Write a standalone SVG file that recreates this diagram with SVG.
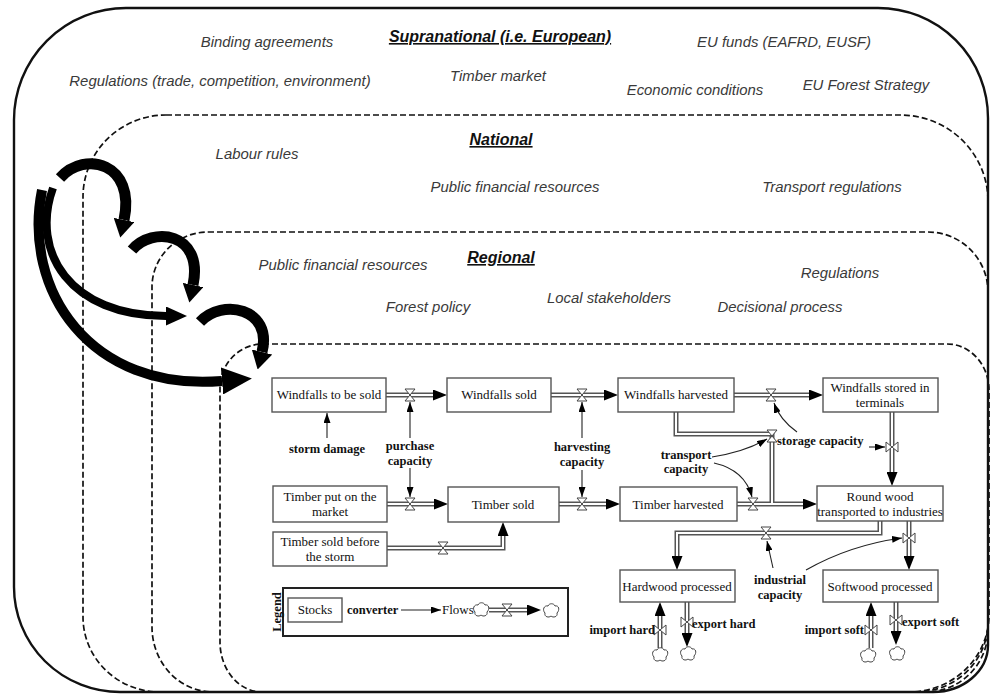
<svg xmlns="http://www.w3.org/2000/svg" width="992" height="695" viewBox="0 0 992 695">
<style>
.lbl{font-family:"Liberation Sans",Arial,sans-serif;font-style:italic;font-size:14.9px;fill:#3a3a3a;text-anchor:middle}
.hd{font-family:"Liberation Sans",Arial,sans-serif;font-style:italic;font-weight:bold;font-size:16px;fill:#111;text-anchor:middle;text-decoration:underline}
.bx{fill:#fff;stroke:#555;stroke-width:1.4}
.bt{font-family:"Liberation Serif","Times New Roman",serif;font-size:13px;fill:#111;text-anchor:middle}
.bl{font-family:"Liberation Serif","Times New Roman",serif;font-size:13px;fill:#111}
.bb{font-family:"Liberation Serif","Times New Roman",serif;font-size:12.5px;font-weight:bold;fill:#111}
.mid{text-anchor:middle}
.end{text-anchor:end}
.dash{fill:none;stroke:#111;stroke-width:1.7;stroke-dasharray:6 3}
.solid{fill:none;stroke:#111;stroke-width:2.4}
.big{fill:none;stroke:#000}
.po{fill:none;stroke:#555;stroke-width:5}
.pi{fill:none;stroke:#fff;stroke-width:2}
.pih{fill:none;stroke:#fff;stroke-width:2;marker-end:url(#ph)}
.ctl{fill:none;stroke:#222;stroke-width:1.1;marker-end:url(#ct)}
</style>
<defs>
<marker id="mA" viewBox="0 0 10 10" markerUnits="userSpaceOnUse" markerWidth="18" markerHeight="21" refX="0" refY="5" orient="auto" preserveAspectRatio="none"><path d="M0,0 L10,5 L0,10 Z" fill="#000"/></marker>
<marker id="mB" viewBox="0 0 10 10" markerUnits="userSpaceOnUse" markerWidth="21" markerHeight="19" refX="0" refY="5" orient="auto" preserveAspectRatio="none"><path d="M0,0 L10,5 L0,10 Z" fill="#000"/></marker>
<marker id="mC" viewBox="0 0 10 10" markerUnits="userSpaceOnUse" markerWidth="30" markerHeight="27" refX="0" refY="5" orient="auto" preserveAspectRatio="none"><path d="M0,0 L10,5 L0,10 Z" fill="#000"/></marker>
<marker id="ph" viewBox="0 0 10 10" markerUnits="userSpaceOnUse" markerWidth="14" markerHeight="11" refX="0" refY="5" orient="auto" preserveAspectRatio="none"><path d="M0,0 L10,5 L0,10 Z" fill="#000"/></marker>
<marker id="ct" viewBox="0 0 10 10" markerUnits="userSpaceOnUse" markerWidth="10" markerHeight="7" refX="10" refY="5" orient="auto" preserveAspectRatio="none"><path d="M0,0 L10,5 L0,10 Z" fill="#000"/></marker>
<path id="valve" d="M-5,-6 H5 L-5,6 H5 Z" fill="#fff" stroke="#444" stroke-width="1"/>
<path id="cloud" d="M-6,2 C-9,-1 -7,-6 -3,-5 C-2,-8 3,-8 4,-5 C8,-6 9,-1 6,2 C7,6 2,7 0,5 C-2,7 -7,6 -6,2 Z" fill="#fff" stroke="#444" stroke-width="1"/>
<path id="p1" d="M386,395 H433"/>
<path id="p2" d="M551,395 H604"/>
<path id="p3" d="M734,395 H809"/>
<path id="p4" d="M387,504 H434"/>
<path id="p5" d="M559,504 H606"/>
<path id="p6" d="M737,504 H803"/>
<path id="p7" d="M676,412 V434 H772 V504"/>
<path id="p8" d="M892,412 V472"/>
<path id="p9" d="M880,521 V533 H677 V556"/>
<path id="p10" d="M909,521 V556"/>
<path id="p11" d="M660,648 V616"/>
<path id="p12" d="M687,602 V633"/>
<path id="p13" d="M871,648 V616"/>
<path id="p14" d="M896,602 V631"/>
<path id="p15" d="M387,548 H503 V536"/>
<path id="p16" d="M489,610 H527"/>
</defs>

<rect width="992" height="695" fill="#fff"/>

<g id="levels">
<path class="dash" d="M263,344 H947 A42,46 0 0 1 989,390 V615 A80,77 0 0 1 909,692 H262 A42,50 0 0 1 220,642 V388 A43,44 0 0 1 263,344 Z"/>
<path class="dash" d="M208,232 H928 A60,60 0 0 1 988,292 V622 A72,70 0 0 1 916,692 H213 A61,65 0 0 1 152,627 V287 A56,55 0 0 1 208,232 Z"/>
<path class="dash" d="M166,115 H900 A88,86 0 0 1 988,201 V630 A62,62 0 0 1 926,692 H160 A77,75 0 0 1 83,617 V197 A83,82 0 0 1 166,115 Z"/>
<path class="solid" d="M126,8 H878 A110,110 0 0 1 988,118 V645 A55,47 0 0 1 933,692 H120 A106,105 0 0 1 14,587 V120 A112,112 0 0 1 126,8 Z"/>
</g>

<g id="supranational">
<text class="hd" x="500" y="42">Supranational (i.e. European)</text>
<text class="lbl" x="267" y="47">Binding agreements</text>
<text class="lbl" x="784" y="47">EU funds (EAFRD, EUSF)</text>
<text class="lbl" x="220" y="86">Regulations (trade, competition, environment)</text>
<text class="lbl" x="498" y="81">Timber market</text>
<text class="lbl" x="695" y="95">Economic conditions</text>
<text class="lbl" x="866" y="90">EU Forest Strategy</text>
</g>
<g id="national">
<text class="hd" x="501" y="145">National</text>
<text class="lbl" x="257" y="159">Labour rules</text>
<text class="lbl" x="515" y="192">Public financial resources</text>
<text class="lbl" x="832" y="192">Transport regulations</text>
</g>
<g id="regional">
<text class="hd" x="501" y="263">Regional</text>
<text class="lbl" x="343" y="270">Public financial resources</text>
<text class="lbl" x="840" y="278">Regulations</text>
<text class="lbl" x="428" y="312">Forest policy</text>
<text class="lbl" x="609" y="303">Local stakeholders</text>
<text class="lbl" x="780" y="312">Decisional process</text>
</g>

<g id="big-arrows">
<path class="big" stroke-width="11" marker-end="url(#mA)" d="M60,178 C85,150 136,163 124,220"/>
<path class="big" stroke-width="11" marker-end="url(#mA)" d="M132,250 C152,226 204,232 193,285"/>
<path class="big" stroke-width="11" marker-end="url(#mA)" d="M200,322 C222,298 273,308 262,352"/>
<path class="big" stroke-width="8" marker-end="url(#mB)" d="M53,188 C30,252 70,316 166,316"/>
<path class="big" stroke-width="10" marker-end="url(#mC)" d="M42,190 C22,290 90,392 222,381"/>
</g>

<g id="flows">
<use href="#p1" class="po"/><use href="#p2" class="po"/><use href="#p3" class="po"/><use href="#p4" class="po"/>
<use href="#p5" class="po"/><use href="#p6" class="po"/><use href="#p7" class="po"/><use href="#p8" class="po"/>
<use href="#p9" class="po"/><use href="#p10" class="po"/><use href="#p11" class="po"/><use href="#p12" class="po"/>
<use href="#p13" class="po"/><use href="#p14" class="po"/><use href="#p15" class="po"/><use href="#p16" class="po"/>
<use href="#p1" class="pih"/><use href="#p2" class="pih"/><use href="#p3" class="pih"/><use href="#p4" class="pih"/>
<use href="#p5" class="pih"/><use href="#p6" class="pih"/><use href="#p7" class="pi"/><use href="#p8" class="pih"/>
<use href="#p9" class="pih"/><use href="#p10" class="pih"/><use href="#p11" class="pih"/><use href="#p12" class="pih"/>
<use href="#p13" class="pih"/><use href="#p14" class="pih"/><use href="#p15" class="pih"/><use href="#p16" class="pih"/>
<use href="#valve" x="410" y="395"/><use href="#valve" x="582" y="395"/><use href="#valve" x="771" y="395"/>
<use href="#valve" x="410" y="504"/><use href="#valve" x="582" y="504"/><use href="#valve" x="753" y="504"/>
<use href="#valve" x="443" y="548"/><use href="#valve" x="766" y="533"/><use href="#valve" x="772" y="436"/>
<use href="#valve" x="507" y="610"/>
<use href="#valve" transform="translate(892,447) rotate(90)"/>
<use href="#valve" transform="translate(909,538) rotate(90)"/>
<use href="#valve" transform="translate(660,630) rotate(90)"/>
<use href="#valve" transform="translate(687,622) rotate(90)"/>
<use href="#valve" transform="translate(871,630) rotate(90)"/>
<use href="#valve" transform="translate(896,620) rotate(90)"/>
<use href="#cloud" x="660" y="655"/><use href="#cloud" x="688" y="654"/>
<use href="#cloud" x="868" y="656"/><use href="#cloud" x="897" y="654"/>
<use href="#cloud" x="481" y="610"/><use href="#cloud" x="551" y="611"/>
</g>

<g id="links">
<path class="ctl" d="M327,438 V413"/>
<path class="ctl" d="M410,438 V402"/>
<path class="ctl" d="M410,468 V497"/>
<path class="ctl" d="M582,438 V402"/>
<path class="ctl" d="M582,470 V497"/>
<path class="ctl" d="M712,457 Q745,452 767,439"/>
<path class="ctl" d="M714,463 Q745,470 752,497"/>
<path class="ctl" d="M797,432 Q780,420 774,403"/>
<path class="ctl" d="M869,447 H885"/>
<path class="ctl" d="M773,568 L767,541"/>
<path class="ctl" d="M806,570 Q850,545 902,538"/>
<path class="ctl" d="M401,610 H441"/>
</g>

<g id="windfalls-to-be-sold"><rect class="bx" x="272" y="378" width="114" height="34"/><text class="bt" x="329" y="399">Windfalls to be sold</text></g>
<g id="windfalls-sold"><rect class="bx" x="447" y="378" width="104" height="34"/><text class="bt" x="499" y="399">Windfalls sold</text></g>
<g id="windfalls-harvested"><rect class="bx" x="618" y="378" width="116" height="34"/><text class="bt" x="676" y="399">Windfalls harvested</text></g>
<g id="windfalls-stored"><rect class="bx" x="823" y="378" width="115" height="34"/><text class="bt" x="880" y="392">Windfalls stored in</text><text class="bt" x="880" y="407">terminals</text></g>
<g id="timber-put"><rect class="bx" x="273" y="486" width="114" height="36"/><text class="bt" x="330" y="501">Timber put on the</text><text class="bt" x="330" y="516">market</text></g>
<g id="timber-sold"><rect class="bx" x="448" y="487" width="111" height="35"/><text class="bt" x="503" y="509">Timber sold</text></g>
<g id="timber-harvested"><rect class="bx" x="620" y="487" width="117" height="34"/><text class="bt" x="678" y="509">Timber harvested</text></g>
<g id="round-wood"><rect class="bx" x="817" y="486" width="126" height="35"/><text class="bt" x="880" y="501">Round wood</text><text class="bt" x="880" y="516">transported to industries</text></g>
<g id="timber-sold-before"><rect class="bx" x="273" y="532" width="114" height="34"/><text class="bt" x="330" y="546">Timber sold before</text><text class="bt" x="330" y="561">the storm</text></g>
<g id="hardwood"><rect class="bx" x="620" y="570" width="115" height="32"/><text class="bt" x="677" y="591">Hardwood processed</text></g>
<g id="softwood"><rect class="bx" x="823" y="570" width="115" height="32"/><text class="bt" x="880" y="591">Softwood processed</text></g>

<g id="converters">
<text class="bb mid" x="327" y="453">storm damage</text>
<text class="bb mid" x="410" y="450">purchase</text><text class="bb mid" x="410" y="465">capacity</text>
<text class="bb mid" x="582" y="451">harvesting</text><text class="bb mid" x="582" y="466">capacity</text>
<text class="bb mid" x="686" y="459">transport</text><text class="bb mid" x="686" y="473">capacity</text>
<text class="bb" x="777" y="445">storage capacity</text>
<text class="bb mid" x="780" y="584">industrial</text><text class="bb mid" x="780" y="599">capacity</text>
<text class="bb end" x="655" y="634">import hard</text>
<text class="bb" x="692" y="628">export hard</text>
<text class="bb end" x="864" y="634">import soft</text>
<text class="bb" x="902" y="626">export soft</text>
</g>

<g id="legend">
<rect x="283" y="588" width="285" height="48" fill="none" stroke="#222" stroke-width="2"/>
<text class="bb mid" transform="translate(281,612) rotate(-90)" font-size="13">Legend</text>
<rect class="bx" x="288" y="598" width="54" height="24"/>
<text class="bt" x="315" y="614">Stocks</text>
<text class="bb" x="347" y="614">converter</text>
<text class="bl" x="442" y="614">Flows</text>
</g>
</svg>
